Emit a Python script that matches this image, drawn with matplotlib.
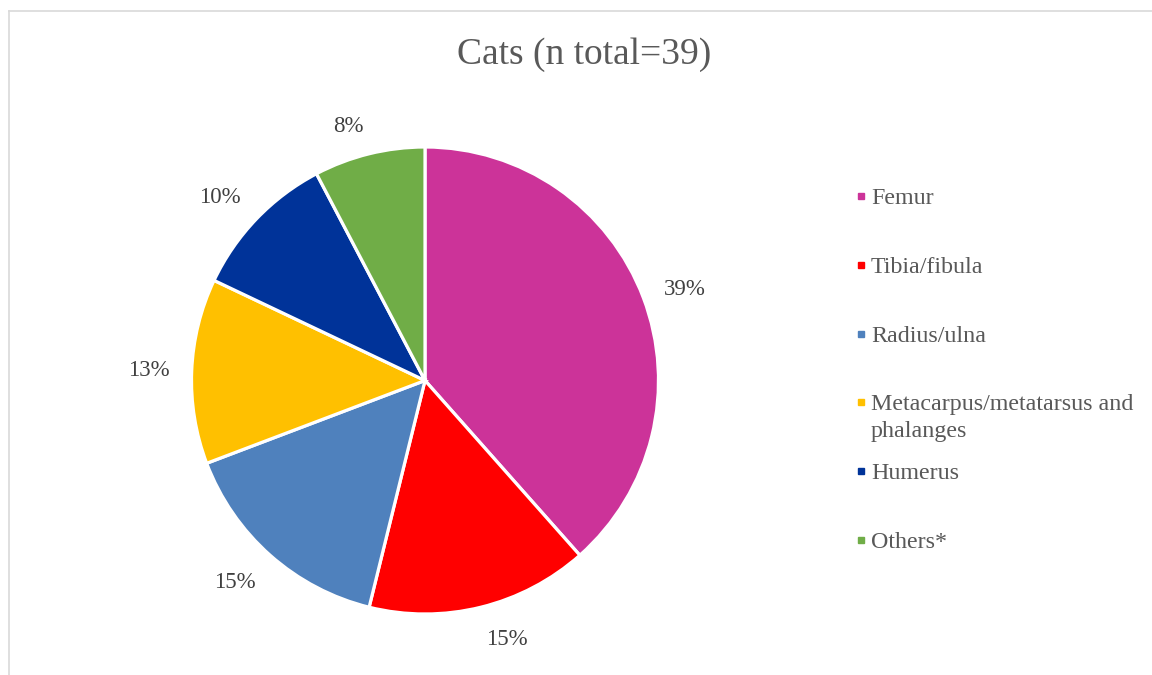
import matplotlib
matplotlib.use("Agg")
import math
import matplotlib.pyplot as plt
from matplotlib.lines import Line2D

categories = ["Femur", "Tibia/fibula", "Radius/ulna",
              "Metacarpus/metatarsus and\nphalanges", "Humerus", "Others*"]
counts = [15, 6, 6, 5, 4, 3]
colors = ["#CC3399", "#FF0000", "#4F81BD", "#FFC000", "#003399", "#70AD47"]
title = "Cats (n total=39)"

# percentages rounded so that they add to 100 (largest remainder, as Excel does)
total = sum(counts)
raw = [c * 100 / total for c in counts]
pcts = [math.floor(v) for v in raw]
order = sorted(range(len(raw)), key=lambda i: raw[i] - pcts[i], reverse=True)
for i in order[:100 - sum(pcts)]:
    pcts[i] += 1
labels_pct = [f"{p}%" for p in pcts]

plt.rcParams["font.family"] = ["Liberation Serif", "DejaVu Serif"]

W, H = 1152, 675
fig = plt.figure(figsize=(W / 100, H / 100), dpi=100)

cx, cy, r = 425, 380.5, 233.5
ax = fig.add_axes([(cx - r) / W, (H - cy - r) / H, 2 * r / W, 2 * r / H])

wedges, _ = ax.pie(
    counts, colors=colors, startangle=90, counterclock=False,
    wedgeprops=dict(edgecolor="white", linewidth=2.3))
ax.set_xlim(-1, 1)
ax.set_ylim(-1, 1)
ax.set_aspect("equal")
ax.axis("off")

# data labels at the outside end of each slice (box corner anchored)
dist = 1 + 22.5 / r
for w, lab in zip(wedges, labels_pct):
    ang = math.radians((w.theta1 + w.theta2) / 2)
    c, s = math.cos(ang), math.sin(ang)
    ha = "left" if c >= 0 else "right"
    if abs(s) < 0.5:
        va = "center"
    elif s > 0:
        va = "baseline"
    else:
        va = "top"
    ax.text(dist * c, dist * s, lab, ha=ha, va=va, fontsize=16.5,
            color="#404040")

fig.text(584 / W, 1 - 55 / H, title, ha="center", va="center",
         fontsize=27, color="#595959")

# legend entries, evenly spaced by their first line
y0, step = 196, 68.8
for i, (cat, col) in enumerate(zip(categories, colors)):
    y = 1 - (y0 + i * step) / H
    fig.add_artist(Line2D([860.5 / W], [y], transform=fig.transFigure,
                          marker="s", markersize=5, color=col, linestyle="none"))
    fig.text(871 / W, y + 8 / H, cat, ha="left", va="top", fontsize=17.3,
             color="#595959", linespacing=1.38)

fig.add_artist(Line2D([8.5 / W, 8.5 / W], [0, 1 - 11 / H], transform=fig.transFigure,
                      color="#d9d9d9", linewidth=1.2))
fig.add_artist(Line2D([8.5 / W, 1], [1 - 11 / H, 1 - 11 / H], transform=fig.transFigure,
                      color="#d9d9d9", linewidth=1.2))

fig.savefig("out.png", dpi=100)
